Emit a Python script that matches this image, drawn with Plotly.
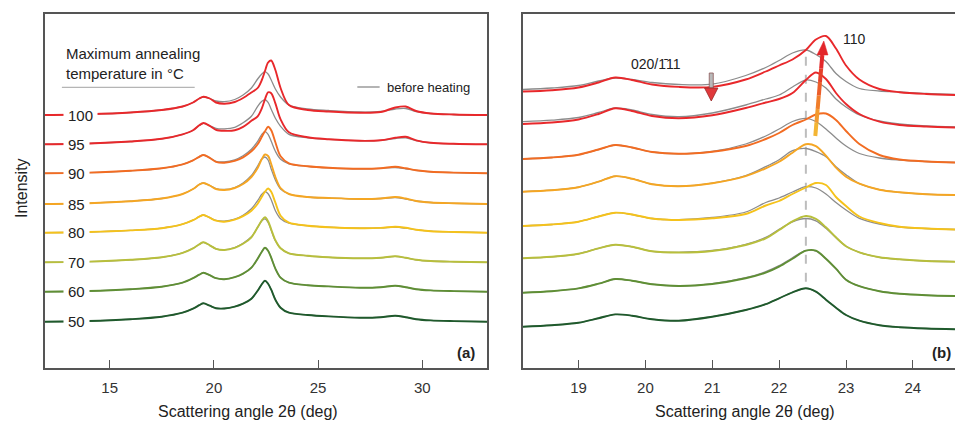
import plotly.graph_objects as go

# ---------------- data ----------------
temps = [50, 60, 70, 80, 85, 90, 95, 100]
colors = ["#1f5a2c", "#5f8f35", "#b8bf3c", "#f5c21b", "#f5a623", "#f26c22", "#e8282b", "#e8282b"]
grey = "#8c8c8c"

# panel (a): wide angle range
xa = [11.9, 14.0, 16.0, 17.5, 18.5, 19.0, 19.3, 19.5, 19.8, 20.1, 20.5, 21.0, 21.4, 21.8, 22.1, 22.3,
      22.45, 22.6, 22.75, 22.95, 23.2, 23.6, 24.5, 25.5, 27.0, 28.0, 28.7, 29.2, 29.7, 30.4, 31.5, 33.1]
offsets_a = [46.3, 76.3, 105.7, 135.3, 164, 194.7, 223.7, 253]

a_after = {
    50: [0, 0.7, 2.5, 5, 9, 13, 16.5, 18.4, 16, 13.5, 13.2, 15, 18, 23, 31, 37.5, 41, 38, 32, 22, 14, 9, 6.7, 5.3, 4, 4.5, 6, 4.5, 2.5, 1.3, 0.6, 0],
    60: [0, 0.7, 2.5, 5, 9, 13.5, 17, 19, 16.5, 13.5, 12.5, 14.5, 18, 24, 33, 40, 44, 41, 34, 23, 14, 9, 6.5, 5.3, 4, 4.5, 6, 4.5, 2.5, 1.3, 0.6, 0],
    70: [0, 0.7, 2.5, 5, 9.5, 14, 18, 20, 17, 13.5, 12.3, 14.5, 18.5, 25, 35, 42, 45, 41, 33, 22, 14, 9, 6.5, 5, 4, 4.5, 6, 4.5, 2.5, 1.3, 0.6, 0],
    80: [0, 0.7, 2.3, 4.5, 8.5, 12.5, 16, 17.7, 15, 12, 11, 13, 16.5, 22, 29, 36, 41, 44.2, 41, 30, 17, 10, 7, 5.5, 4.5, 4.8, 6, 5, 3, 1.5, 0.7, 0],
    85: [0, 0.8, 2.8, 5.5, 10, 15, 19.5, 21, 18.5, 15, 14, 16, 20, 27, 36, 45, 49.5, 48, 40, 27, 16, 10, 7, 6, 5, 5.5, 7, 5.5, 3, 1.5, 0.7, 0],
    90: [0, 0.7, 2.5, 5, 9, 13, 16.5, 18.3, 15.5, 11.5, 10.6, 12.5, 16, 22, 29, 36.5, 42, 46.5, 43, 31, 17, 10, 7, 5.5, 4.5, 5, 6.5, 5, 3, 1.5, 0.7, 0],
    95: [0, 0.8, 2.8, 5.5, 10, 14, 19, 21.3, 18.5, 14.5, 13.5, 14, 17.5, 23.5, 28, 36, 45, 52, 51, 41, 25, 12, 7, 5, 3.5, 4, 6.5, 7.5, 4, 1.5, 0.5, 0],
    100: [0, 0.8, 2.5, 5, 8.5, 12.5, 16.5, 18.2, 16.5, 12.5, 11.3, 13, 17, 22.5, 27, 35, 44, 52.5, 54.5, 45, 27, 10, 5, 3.5, 2.3, 3, 7.5, 8.5, 4, 1.5, 0.5, 0],
}
a_before = {
    50: a_after[50],
    60: a_after[60],
    70: [0, 0.7, 2.5, 5, 9.5, 14, 18, 20, 17, 13.5, 12.5, 14.8, 19, 25.5, 35, 41.5, 43.5, 40, 32, 21.5, 14, 9, 6.5, 5, 4, 4.5, 6, 4.5, 2.5, 1.3, 0.6, 0],
    80: [0, 0.7, 2.3, 4.5, 8.5, 12.5, 16, 17.7, 15, 12.3, 11.5, 13.5, 17.5, 24, 32, 38.5, 41, 39, 33, 22, 14, 9.5, 7, 5.5, 4.5, 4.8, 5.5, 4.5, 3, 1.5, 0.7, 0],
    85: [0, 0.8, 2.8, 5.5, 10, 15, 19.5, 21, 18.5, 15.5, 14.5, 16.5, 21, 28.5, 38, 45, 47, 44, 35, 24, 15, 10, 7, 6, 5, 5.5, 6.5, 5, 3, 1.5, 0.7, 0],
    90: [0, 0.7, 2.5, 5, 9, 13, 16.5, 18.3, 15.5, 12, 11.5, 13.5, 17.5, 24, 32, 39, 41.6, 39, 32, 22, 14, 9.5, 7, 5.5, 4.5, 5, 5.8, 4.5, 3, 1.5, 0.7, 0],
    95: [0, 0.8, 2.8, 5.5, 10, 14, 19, 21, 18.5, 16, 15.5, 17, 21.5, 28, 38, 43, 44.7, 42, 35, 26, 18, 10, 6.5, 5, 3.5, 4, 5.8, 6.5, 3.8, 1.5, 0.5, 0],
    100: [0, 0.8, 2.5, 5, 8.5, 12.5, 16.5, 18, 16.5, 14, 13.3, 15.5, 20, 27, 36, 41, 43.3, 41, 35, 26, 18, 10, 6, 4.5, 3, 3.5, 6, 6.5, 3.5, 1.5, 0.5, 0],
}

# panel (b): zoom on the 020/-111 and 110 reflections
xb = [18.17, 18.6, 19.0, 19.3, 19.55, 19.8, 20.1, 20.5, 21.0, 21.5, 21.8, 22.0, 22.2, 22.4, 22.55,
      22.7, 22.85, 23.0, 23.2, 23.5, 23.8, 24.2, 24.63]
offsets_b = [41.3, 75.3, 109.7, 142, 176.3, 209, 244, 276.5]

b_after = {
    50: [0, 1.5, 4, 8.5, 12.3, 11, 7.5, 6, 10, 16.7, 22.5, 28.4, 34.4, 38.4, 35, 27, 19, 11.7, 6, 1.5, -0.5, -1.8, -2.6],
    60: [0, 1.5, 4.3, 9, 13.7, 12, 8.5, 6.7, 8.7, 14.4, 20, 26, 34, 42, 42, 34, 24, 13, 6.5, 1.5, -1, -2.5, -3.3],
    70: [0, 1.5, 4.5, 10, 13.5, 11.5, 7, 5.8, 7.3, 13.3, 20, 28.3, 37, 42.3, 39.5, 31, 21, 12, 6, 1, -1, -2.7, -3.4],
    80: [0, 1.5, 4.3, 9.5, 13.3, 11.5, 7.5, 6, 7.7, 12, 20.5, 25, 32, 38.5, 43, 41, 29, 20, 9.5, 3, -0.7, -2.5, -3.5],
    85: [0, 1.5, 4.5, 10, 15.5, 13, 7.5, 5.5, 8.5, 15.5, 23.4, 30, 39, 47.5, 45.5, 36, 24, 15, 8, 2, -0.6, -2.5, -3.3],
    90: [0, 1.5, 4.3, 9.5, 14, 11.5, 7, 5.2, 7.3, 13, 20, 26, 34, 39.5, 44.5, 45.5, 39, 28, 15, 4, -0.5, -2.5, -3.5],
    95: [0, 1.5, 4.5, 10, 15.7, 13, 8, 5.7, 8.7, 16, 21.5, 25, 31, 44, 51.5, 45, 31, 20, 10, 2.3, -1, -2.5, -3.5],
    100: [0, 1.3, 4, 9, 14, 11.5, 7, 4.6, 4.6, 12, 20, 26, 32, 41.5, 52, 55.5, 43, 26, 12, 2.5, -0.7, -2.5, -3.5],
}
b_before = {
    50: b_after[50],
    60: [0, 1.5, 4.3, 9, 13.7, 12, 8.5, 6.7, 9, 15, 21, 27, 35, 42, 41.5, 34, 24, 13, 6.5, 1.5, -1, -2.5, -3.3],
    70: [0, 1.5, 4.5, 10, 13.7, 11.5, 7, 6, 7.8, 14, 21, 29, 36.5, 39.8, 37.5, 30, 20.5, 12, 6, 1, -1, -2.7, -3.4],
    80: [0, 1.5, 4.3, 9.5, 13.3, 11.5, 7.5, 6.3, 8.5, 14, 23.5, 28, 34, 39.3, 38, 32, 23.5, 16, 7.7, 2, -1, -2.5, -3.5],
    85: [0, 1.5, 4.5, 10, 15.5, 13, 7.5, 5.5, 8.5, 16, 25, 32, 41, 43.2, 40, 35, 25, 17, 8, 2, -0.6, -2.5, -3.3],
    90: [0, 1.5, 4.3, 9.5, 14, 11.5, 7, 5.2, 7.5, 15, 23, 30, 37.5, 40.7, 37.5, 30, 21, 13, 5.5, 1, -1, -2.5, -3.5],
    95: [2.3, 3.8, 6.5, 11.5, 16, 14, 9.5, 7.3, 11, 19, 25, 29, 37, 44, 42, 36, 25, 17, 9, 3, 0, -2, -3],
    100: [2, 3.5, 6, 10.5, 13.5, 12, 9, 7, 7.3, 16, 24, 31, 38.5, 41.5, 37, 30, 18, 10, 3, 0.5, -0.5, -2, -3],
}

ticks_a = [15, 20, 25, 30]
ticks_b = [19, 20, 21, 22, 23, 24]

FONT = "Liberation Sans, Arial, sans-serif"
TXT = "#222222"

fig = go.Figure()

for i, t in enumerate(temps):
    for xs, before, after, offs, xr, yr in ((xa, a_before, a_after, offsets_a, "x", "y"),
                                            (xb, b_before, b_after, offsets_b, "x2", "y2")):
        o = offs[i]
        fig.add_trace(go.Scatter(x=xs, y=[o + v for v in before[t]], mode="lines",
                                 line=dict(color=grey, width=1.3, shape="spline", smoothing=0.9),
                                 xaxis=xr, yaxis=yr, showlegend=False, hoverinfo="skip"))
        fig.add_trace(go.Scatter(x=xs, y=[o + v for v in after[t]], mode="lines",
                                 line=dict(color=colors[i], width=1.9, shape="spline", smoothing=0.9),
                                 xaxis=xr, yaxis=yr, showlegend=False, hoverinfo="skip"))

W, H = 955, 423
top_px, bot_px = 14, 368
ydom = [(H - bot_px) / H, (H - top_px) / H]

axis_common = dict(showgrid=False, zeroline=False, showline=True, linecolor="#555555", linewidth=1.5,
                   ticks="inside", ticklen=8, tickwidth=1.2, tickcolor="#555555",
                   tickfont=dict(family=FONT, size=15, color="#333333"), ticklabelstandoff=5)

fig.update_layout(
    width=W, height=H, margin=dict(l=0, r=0, t=0, b=0),
    paper_bgcolor="white", plot_bgcolor="white",
    xaxis=dict(domain=[45 / W, 487 / W], range=[11.9, 33.1], tickvals=ticks_a, mirror=True, anchor="y", **axis_common),
    yaxis=dict(domain=ydom, range=[0, 354], showticklabels=False, ticks="", showgrid=False, zeroline=False,
               showline=True, mirror=True, linecolor="#555555", linewidth=1.5, anchor="x"),
    xaxis2=dict(domain=[523 / W, 1.0], range=[18.17, 24.63], tickvals=ticks_b, mirror=True, anchor="y2", **axis_common),
    yaxis2=dict(domain=ydom, range=[0, 354], showticklabels=False, ticks="", showgrid=False, zeroline=False,
                showline=True, mirror=False, linecolor="#555555", linewidth=1.5, anchor="x2"),
)

ann = []
# temperature labels (panel a)
for i, t in enumerate(temps):
    ann.append(dict(x=12.78, y=offsets_a[i], xref="x", yref="y", text=str(t), showarrow=False,
                    xanchor="left", yanchor="middle", bgcolor="white", borderpad=4,
                    font=dict(family=FONT, size=15, color=TXT)))
ann += [
    dict(x=12.81, y=305, xref="x", yref="y", text="Maximum annealing<br>temperature in °C", showarrow=False,
         xanchor="left", yanchor="middle", align="left", font=dict(family=FONT, size=15, color=TXT)),
    dict(x=28.2, y=281, xref="x", yref="y", text="before heating", showarrow=False,
         xanchor="left", yanchor="middle", font=dict(family=FONT, size=13, color=TXT)),
    dict(x=32.1, y=16, xref="x", yref="y", text="<b>(a)</b>", showarrow=False,
         xanchor="center", yanchor="middle", font=dict(family=FONT, size=15, color=TXT)),
    dict(x=953 / W, y=1 - 352 / H, xref="paper", yref="paper", text="<b>(b)</b>", showarrow=False,
         xanchor="right", yanchor="middle", font=dict(family=FONT, size=15, color=TXT)),
    dict(x=23.125, y=329, xref="x2", yref="y2", text="110", showarrow=False,
         xanchor="center", yanchor="middle", font=dict(family=FONT, size=14, color=TXT)),
    dict(x=20.16, y=304, xref="x2", yref="y2", text="020/1\u030411", showarrow=False,
         xanchor="center", yanchor="middle", font=dict(family=FONT, size=14, color=TXT)),
    dict(x=248 / W, y=1 - 411 / H, xref="paper", yref="paper", text="Scattering angle 2θ (deg)", showarrow=False,
         xanchor="center", yanchor="middle", font=dict(family=FONT, size=16, color=TXT)),
    dict(x=745 / W, y=1 - 411 / H, xref="paper", yref="paper", text="Scattering angle 2θ (deg)", showarrow=False,
         xanchor="center", yanchor="middle", font=dict(family=FONT, size=16, color=TXT)),
    dict(x=21 / W, y=1 - 188 / H, xref="paper", yref="paper", text="Intensity", showarrow=False, textangle=-90,
         xanchor="center", yanchor="middle", font=dict(family=FONT, size=16, color=TXT)),
]
fig.update_layout(annotations=ann)

shapes = [
    # underline of legend title
    dict(type="line", xref="x", yref="y", x0=12.71, x1=19.08, y0=280.7, y1=280.7, line=dict(color="#b5b5b5", width=1.3)),
    # 'before heating' legend sample
    dict(type="line", xref="x", yref="y", x0=26.88, x1=27.95, y0=281, y1=281, line=dict(color=grey, width=1.3)),
    # dashed reference line
    dict(type="line", xref="x2", yref="y2", x0=22.4, x1=22.4, y0=86.3, y1=318,
         line=dict(color="#bdbdbd", width=2, dash="dash"), layer="below"),
    # down arrow (shaft + head)
    dict(type="rect", xref="x2", yref="y2", x0=20.955, x1=21.015, y0=280, y1=295,
         fillcolor="#b9b9b9", line=dict(color="#8a5555", width=0.8)),
    dict(type="path", xref="x2", yref="y2", path="M 20.885,280 L 21.085,280 L 20.985,267 Z",
         fillcolor="#e0393b", line=dict(color="#9a2a2a", width=0.8)),
]
# up arrow: shaft as colour-graded segments
seg_cols = ["#f3b534", "#f29a2e", "#f07e2b", "#ec5e2a", "#e6402a", "#e3282a"]
x0s, y0s, x1s, y1s = 22.541, 232, 22.646, 313
n = len(seg_cols)
for k, c in enumerate(seg_cols):
    fa, fb = k / n, (k + 1) / n
    shapes.append(dict(type="line", xref="x2", yref="y2",
                       x0=x0s + (x1s - x0s) * fa, y0=y0s + (y1s - y0s) * fa,
                       x1=x0s + (x1s - x0s) * fb, y1=y0s + (y1s - y0s) * fb,
                       line=dict(color=c, width=4)))
shapes.append(dict(type="path", xref="x2", yref="y2", path="M 22.566,313 L 22.731,313 L 22.668,327 Z",
                   fillcolor="#e3262a", line=dict(color="#e3262a", width=0.5)))
fig.update_layout(shapes=shapes)

fig.write_html("out.html")
